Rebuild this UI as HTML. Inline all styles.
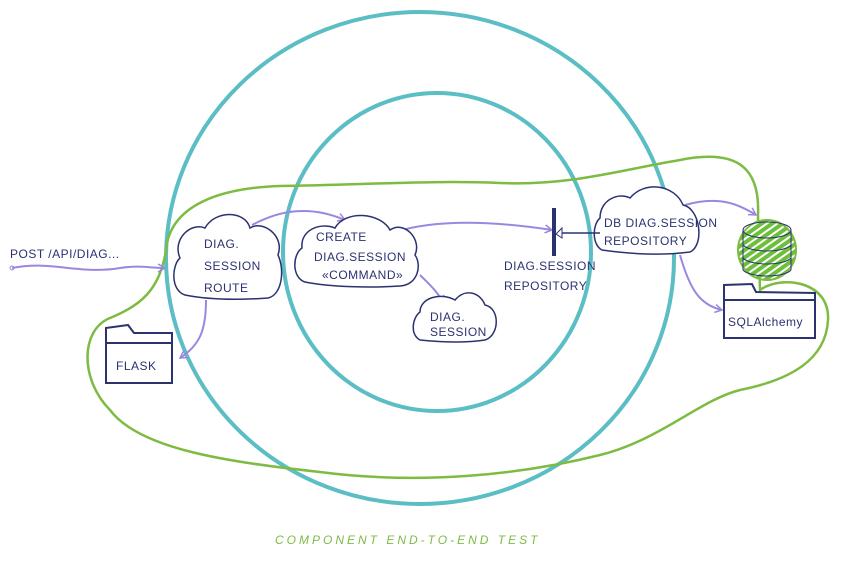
<!DOCTYPE html>
<html><head><style>
html,body{margin:0;padding:0;background:#fff;}
svg{display:block}
text{font-family:"Liberation Sans",sans-serif;fill:#2b3270;font-size:12px;letter-spacing:0.5px}
</style></head><body>
<svg width="843" height="561" viewBox="0 0 843 561">
<defs>
<marker id="a" markerWidth="10" markerHeight="10" refX="8" refY="5" orient="auto" markerUnits="userSpaceOnUse">
<path d="M1,1 L8,5 L1,9" fill="none" stroke="#9b87e0" stroke-width="1.5"/></marker>
<pattern id="h" width="6" height="6" patternUnits="userSpaceOnUse" patternTransform="rotate(-35)">
<rect width="6" height="6" fill="#fff"/><rect width="6" height="4" fill="#6cbf3a"/></pattern>
</defs>
<!-- teal circles -->
<ellipse cx="420" cy="258" rx="254" ry="246" fill="none" stroke="#5bbec4" stroke-width="4"/>
<ellipse cx="437" cy="252" rx="154" ry="159" fill="none" stroke="#5bbec4" stroke-width="4"/>
<!-- green loop -->
<path d="M166,250 C170,205 220,188 280,186 C360,185 430,180 500,183 C570,186 620,170 680,160 C740,148 760,170 758,215 L760,290 C780,275 830,280 828,320 C826,360 790,380 740,390 C700,400 660,440 600,455 C520,475 420,485 320,472 C230,462 140,450 110,410 C80,380 80,330 110,318 C140,306 160,290 166,250" fill="none" stroke="#7dbb42" stroke-width="2.5"/>
<!-- purple arrows -->
<g fill="none" stroke="#9b87e0" stroke-width="2">
<path d="M12,268 C50,260 80,275 120,268 C140,265 150,268 165,268" marker-end="url(#a)"/>
<path d="M252,225 C280,210 310,205 345,220" marker-end="url(#a)"/>
<path d="M395,232 C440,218 500,222 552,230" marker-end="url(#a)"/>
<path d="M206,300 C206,330 200,345 180,358" marker-end="url(#a)"/>
<path d="M420,275 C430,285 438,292 443,303" marker-end="url(#a)"/>
<path d="M685,205 C720,195 740,205 756,215" marker-end="url(#a)"/>
<path d="M680,255 C690,290 700,305 722,310" marker-end="url(#a)"/>
</g>
<circle cx="12" cy="268" r="2" fill="none" stroke="#9b87e0"/>
<!-- clouds -->
<g fill="#fff" stroke="#2b3270" stroke-width="1.5">
<path d="M185,295 C170,290 172,265 180,258 C172,240 190,222 205,228 C215,210 245,210 250,228 C262,220 285,235 278,255 C285,270 282,295 268,298 C240,300 210,300 185,295 Z"/>
<path d="M305,282 C292,278 292,255 302,248 C300,230 320,222 335,228 C345,210 380,212 390,230 C405,220 422,240 415,255 C422,265 418,285 400,286 C370,288 330,287 305,282 Z"/>
<path d="M420,340 C410,335 412,318 420,312 C420,298 440,292 455,300 C465,288 480,292 485,305 C500,308 500,335 485,340 C465,343 440,342 420,340 Z"/>
<path d="M602,250 C592,245 592,225 600,218 C600,200 618,192 630,198 C645,180 675,185 683,205 C700,208 705,245 690,252 C660,256 630,254 602,250 Z"/>
</g>
<!-- bar -->
<rect x="552" y="208" width="4" height="48" fill="#2b3270"/>
<path d="M562,228 L556,234 L562,238 Z" fill="#fff" stroke="#2b3270"/>
<path d="M562,233 L600,233" stroke="#2b3270" stroke-width="1.5"/>
<!-- flask folder -->
<path d="M106,383 L106,328 L128,325 L134,333 L172,333 L172,383 Z M106,343 L172,343" fill="#fff" stroke="#2b3270" stroke-width="2"/>
<!-- sqlalchemy folder -->
<path d="M724,338 L724,285 L752,284 L756,292 L815,293 L815,338 Z M724,300 L815,300" fill="#fff" stroke="#2b3270" stroke-width="2"/>
<!-- database -->
<g stroke="#2b3270" stroke-width="1">
<ellipse cx="767" cy="250" rx="29" ry="30" fill="url(#h)" stroke="#7dbb42" stroke-width="2"/>
<ellipse cx="767" cy="230" rx="24" ry="8" fill="none"/>
<path d="M743,230 L743,270 M791,230 L791,270 M743,245 C750,253 784,253 791,245 M743,258 C750,266 784,266 791,258 M743,270 C750,278 784,278 791,270" fill="none"/>
</g>
<!-- texts -->
<text x="10" y="258" font-size="13">POST /API/DIAG...</text>
<text x="204" y="248">DIAG.</text>
<text x="204" y="270">SESSION</text>
<text x="204" y="292">ROUTE</text>
<text x="316" y="241">CREATE</text>
<text x="314" y="261">DIAG.SESSION</text>
<text x="322" y="279" font-size="11">«COMMAND»</text>
<text x="430" y="321">DIAG.</text>
<text x="430" y="336">SESSION</text>
<text x="504" y="270" font-size="10">DIAG.SESSION</text>
<text x="504" y="290" font-size="10">REPOSITORY</text>
<text x="604" y="227" font-size="11">DB DIAG.SESSION</text>
<text x="604" y="245" font-size="11">REPOSITORY</text>
<text x="116" y="370" font-size="17">FLASK</text>
<text x="728" y="326" font-size="12">SQLAlchemy</text>
<text x="275" y="544" style="fill:#7dbb42;font-style:italic;letter-spacing:3px" font-size="14">COMPONENT END-TO-END TEST</text>
</svg>
</body></html>
